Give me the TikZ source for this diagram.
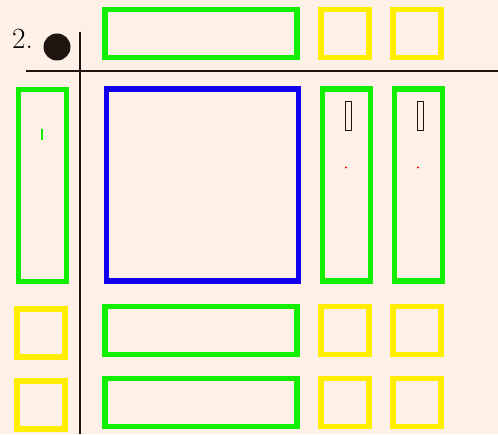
\documentclass[tikz,border=0pt]{standalone}
\usepackage{fontspec}
\usepackage{tikz}
\usetikzlibrary{positioning}
\definecolor{Sheet}{HTML}{FDF0E6}
\definecolor{Lime}{HTML}{11EE00}
\definecolor{Lemon}{HTML}{FFEE00}
\definecolor{Royal}{HTML}{1100EE}
\definecolor{Ink}{HTML}{1E1410}

\begin{document}
\begin{tikzpicture}[x=0.75pt, y=-0.75pt,
    slot/.style={draw, line width=4pt, inner sep=0pt, minimum width=36pt, minimum height=36pt},
    yslot/.style={slot, draw=Lemon},
    gwide/.style={slot, draw=Lime, minimum width=144pt},
    gtall/.style={slot, draw=Lime, minimum height=144pt},
    bbig/.style={slot, draw=Royal, minimum width=144pt, minimum height=144pt},
    rule/.style={draw=Ink, line width=1.5pt}]
    \fill[Sheet] (0,0) rectangle (498,434);
    \useasboundingbox (0,0) rectangle (498,434);

    % header
    \node[anchor=base west, font=\fontsize{22}{26}\selectfont] (num) at (7.5,49) {2.};
    \node[circle, fill=Ink, minimum size=20.25pt, inner sep=0pt] (dot) at (57,47) {};
    \draw[rule] (80,32) -- (80,434);
    \draw[rule] (26,71) -- (498,71);

    % top row
    \node[gwide] (top) at (201,33.5) {};
    \node[yslot] (topa) at (345,33.5) {};
    \node[yslot] (topb) at (417,33.5) {};

    % middle row
    \node[gtall] (left) at (42.5,185.5) {};
    \node[bbig] (core) at (202.5,185) {};
    \node[gtall] (righta) at (346.5,185) {};
    \node[gtall] (rightb) at (418.5,185) {};
    \draw[Lime, line width=1.2pt] (42,129) -- (42,140);
    \foreach \x in {348.5,420.5} {
      \node[draw=Ink, line width=0.8pt, inner sep=0pt, minimum width=5pt, minimum height=22pt] at (\x,116) {};
      \fill[red] (\x-2.5,167.5) circle (1.2);
    }

    % bottom rows
    \foreach \n/\yl/\y in {rowa/333/330.5, rowb/405/402.7} {
      \node[yslot] (\n l) at (41,\yl) {};
      \node[gwide] (\n m) at (201,\y) {};
      \node[yslot] (\n a) at (345,\y) {};
      \node[yslot] (\n b) at (417,\y) {};
    }
  \end{tikzpicture}
\end{document}
